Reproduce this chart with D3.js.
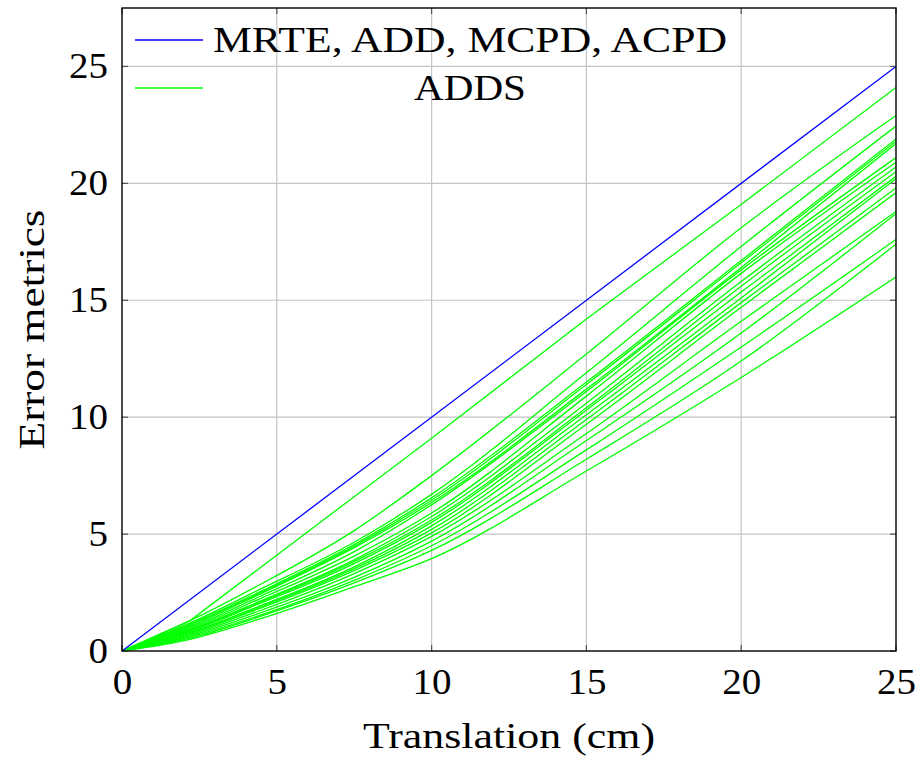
<!DOCTYPE html>
<html>
<head>
<meta charset="utf-8">
<script src="https://cdn.jsdelivr.net/npm/d3@7"></script>
<style>
  html, body { margin: 0; padding: 0; background: #fff; }
  svg text { font-family: "Liberation Serif", "DejaVu Serif", serif; fill: #000; }
</style>
</head>
<body>
<svg id="chart" width="920" height="760"></svg>
<script>
// ---- data ----
const xTicks = [0, 5, 10, 15, 20, 25];
const yTicks = [0, 5, 10, 15, 20, 25];
const xTitle = "Translation (cm)";
const yTitle = "Error metrics";
const legendLabels = ["MRTE, ADD, MCPD, ACPD", "ADDS"];

// combined metric line (MRTE, ADD, MCPD, ACPD)
const blueX = [0, 25];
const blueY = [0, 25];

// knots (translation in cm) shared by the ADDS curves
const addsX = [0, 2.2, 4.4, 7.5, 10, 15, 20, 25];
const adds01 = [0, 1.3, 3.5, 6.6, 9.1, 14.2, 19.1, 24.1];
const adds02 = [0, 1.3, 2.8, 5.15, 7.5, 12.7, 18.1, 22.9];
const adds03 = [0, 1.2, 2.6, 4.65, 6.7, 11.9, 17.3, 22.45];
const adds04 = [0, 1.15, 2.5, 4.55, 6.55, 11.5, 16.7, 21.9];
const adds05 = [0, 1.1, 2.45, 4.48, 6.45, 11.4, 16.6, 21.8];
const adds06 = [0, 1.05, 2.4, 4.42, 6.35, 11.2, 16.4, 21.7];
const adds07 = [0, 1.0, 2.3, 4.25, 6.25, 11.1, 16.3, 21.1];
const adds08 = [0, 0.95, 2.2, 4.06, 5.9, 10.9, 16.15, 20.9];
const adds09 = [0, 0.9, 2.1, 3.9, 5.75, 10.6, 15.8, 20.7];
const adds10 = [0, 0.88, 2.05, 3.82, 5.6, 10.4, 15.6, 20.5];
const adds11 = [0, 0.85, 2.0, 3.74, 5.5, 10.3, 15.35, 20.3];
const adds12 = [0, 0.8, 1.9, 3.6, 5.35, 10.1, 15.1, 20.2];
const adds13 = [0, 0.78, 1.85, 3.52, 5.2, 9.9, 14.9, 19.8];
const adds14 = [0, 0.75, 1.8, 3.44, 5.05, 9.7, 14.7, 19.6];
const adds15 = [0, 0.7, 1.7, 3.31, 4.9, 9.3, 14.1, 18.8];
const adds16 = [0, 0.65, 1.6, 3.15, 4.7, 9.0, 13.6, 18.7];
const adds17 = [0, 0.6, 1.5, 3.02, 4.5, 8.6, 13.0, 17.6];
const adds18 = [0, 0.55, 1.45, 2.91, 4.3, 8.2, 12.4, 17.4];
const adds19 = [0, 0.5, 1.35, 2.75, 3.95, 7.7, 11.7, 16.0];
const addsSeries = [adds01, adds02, adds03, adds04, adds05, adds06, adds07, adds08, adds09, adds10,
                    adds11, adds12, adds13, adds14, adds15, adds16, adds17, adds18, adds19];

// ---- layout ----
const L = 122, R = 896, T = 8, B = 651;
const svg = d3.select("#chart");
const x = d3.scaleLinear().domain([0, 25]).range([L, R]);
const y = d3.scaleLinear().domain([0, 27.5]).range([B, T]);

// grid
const grid = svg.append("g");
grid.selectAll("line.gx").data(xTicks.filter(d => d > 0 && d < 25)).enter().append("line")
  .attr("x1", d => x(d)).attr("x2", d => x(d)).attr("y1", T).attr("y2", B)
  .attr("stroke", "#c4c4c4").attr("stroke-width", 1.2);
grid.selectAll("line.gy").data(yTicks.filter(d => d > 0)).enter().append("line")
  .attr("x1", L).attr("x2", R).attr("y1", d => y(d)).attr("y2", d => y(d))
  .attr("stroke", "#c4c4c4").attr("stroke-width", 1.2);

// inward tick marks on all sides
const tk = 6;
const ticks = svg.append("g").attr("stroke", "#555").attr("stroke-width", 1.2);
xTicks.forEach(d => {
  ticks.append("line").attr("x1", x(d)).attr("x2", x(d)).attr("y1", B).attr("y2", B - tk);
  ticks.append("line").attr("x1", x(d)).attr("x2", x(d)).attr("y1", T).attr("y2", T + tk);
});
yTicks.forEach(d => {
  ticks.append("line").attr("x1", L).attr("x2", L + tk).attr("y1", y(d)).attr("y2", y(d));
  ticks.append("line").attr("x1", R).attr("x2", R - tk).attr("y1", y(d)).attr("y2", y(d));
});

// lines
svg.append("clipPath").attr("id", "clip").append("rect")
  .attr("x", L).attr("y", T).attr("width", R - L).attr("height", B - T);
const plot = svg.append("g").attr("clip-path", "url(#clip)");
const smooth = d3.line().x(d => x(d[0])).y(d => y(d[1])).curve(d3.curveMonotoneX);
const straight = d3.line().x(d => x(d[0])).y(d => y(d[1]));
addsSeries.forEach((s, k) => {
  plot.append("path").datum(addsX.map((v, i) => [v, s[i]]))
    .attr("d", k === 0 ? straight : smooth)
    .attr("fill", "none").attr("stroke", "#00ff00").attr("stroke-width", 1.3);
});
plot.append("path").datum(blueX.map((v, i) => [v, blueY[i]]))
  .attr("d", straight).attr("fill", "none").attr("stroke", "#0000ff").attr("stroke-width", 1.3);

// frame
svg.append("rect").attr("x", L).attr("y", T).attr("width", R - L).attr("height", B - T)
  .attr("fill", "none").attr("stroke", "#000").attr("stroke-width", 1.4);

// axes labels (D3 axes with hidden domain)
const fs = 35;
const digitW = 19.5;
const xAxis = svg.append("g").attr("transform", `translate(0,${B})`)
  .call(d3.axisBottom(x).tickValues(xTicks).tickFormat(d3.format("d")).tickSize(0));
xAxis.select(".domain").remove();
xAxis.selectAll("text").attr("font-size", fs).attr("y", 43).attr("dy", 0)
  .attr("textLength", d => String(d).length * digitW).attr("lengthAdjust", "spacingAndGlyphs");
const yAxis = svg.append("g").attr("transform", `translate(${L},0)`)
  .call(d3.axisLeft(y).tickValues(yTicks).tickFormat(d3.format("d")).tickSize(0).tickPadding(14));
yAxis.select(".domain").remove();
yAxis.selectAll("text").attr("font-size", fs)
  .attr("textLength", d => String(d).length * digitW).attr("lengthAdjust", "spacingAndGlyphs");

svg.append("text").attr("x", (L + R) / 2).attr("y", 748).attr("text-anchor", "middle")
  .attr("font-size", fs).attr("textLength", 292).attr("lengthAdjust", "spacingAndGlyphs").text(xTitle);
svg.append("text").attr("transform", `translate(44,${(T + B) / 2}) rotate(-90)`)
  .attr("text-anchor", "middle").attr("font-size", fs)
  .attr("textLength", 240).attr("lengthAdjust", "spacingAndGlyphs").text(yTitle);

// legend
const legColors = ["#0000ff", "#00ff00"];
const legY = [40, 88];
const legW = [514, 112];
legendLabels.forEach((lab, i) => {
  svg.append("line").attr("x1", 135).attr("x2", 203).attr("y1", legY[i]).attr("y2", legY[i])
    .attr("stroke", legColors[i]).attr("stroke-width", 1.3);
  svg.append("text").attr("x", 470).attr("y", legY[i]).attr("dy", "0.35em")
    .attr("text-anchor", "middle").attr("font-size", fs)
    .attr("textLength", legW[i]).attr("lengthAdjust", "spacingAndGlyphs").text(lab);
});
</script>
</body>
</html>
